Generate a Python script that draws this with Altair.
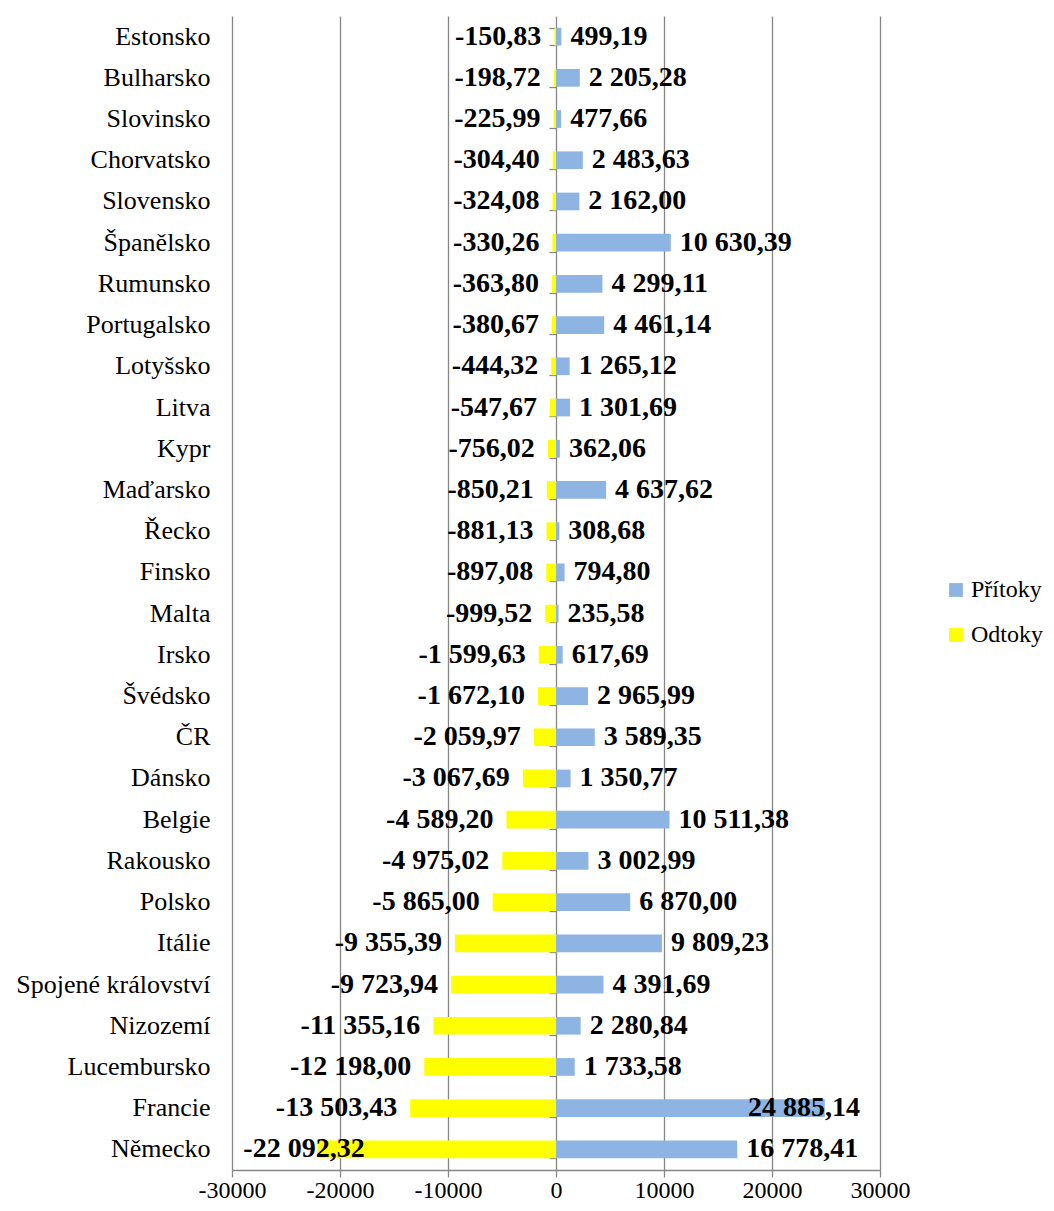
import altair as alt
import pandas as pd

countries = ["Estonsko", "Bulharsko", "Slovinsko", "Chorvatsko", "Slovensko", "Španělsko",
             "Rumunsko", "Portugalsko", "Lotyšsko", "Litva", "Kypr", "Maďarsko", "Řecko",
             "Finsko", "Malta", "Irsko", "Švédsko", "ČR", "Dánsko", "Belgie", "Rakousko",
             "Polsko", "Itálie", "Spojené království", "Nizozemí", "Lucembursko", "Francie",
             "Německo"]
inflows = [499.19, 2205.28, 477.66, 2483.63, 2162.00, 10630.39, 4299.11, 4461.14, 1265.12,
           1301.69, 362.06, 4637.62, 308.68, 794.80, 235.58, 617.69, 2965.99, 3589.35,
           1350.77, 10511.38, 3002.99, 6870.00, 9809.23, 4391.69, 2280.84, 1733.58,
           24885.14, 16778.41]
outflows = [-150.83, -198.72, -225.99, -304.40, -324.08, -330.26, -363.80, -380.67, -444.32,
            -547.67, -756.02, -850.21, -881.13, -897.08, -999.52, -1599.63, -1672.10,
            -2059.97, -3067.69, -4589.20, -4975.02, -5865.00, -9355.39, -9723.94,
            -11355.16, -12198.00, -13503.43, -22092.32]
series = ["Přítoky", "Odtoky"]
colors = ["#8DB4E2", "#FFFF00"]
x_ticks = [-30000, -20000, -10000, 0, 10000, 20000, 30000]


def fmt(v):
    s = f"{abs(v):,.2f}".replace(",", " ").replace(".", ",")
    return ("-" if v < 0 else "") + s


rows = []
for c, i, o in zip(countries, inflows, outflows):
    rows.append({"country": c, "series": "Přítoky", "value": i, "label": fmt(i)})
    rows.append({"country": c, "series": "Odtoky", "value": o, "label": fmt(o)})
df = pd.DataFrame(rows)

FONT = "Liberation Serif"
GRID = "#868686"

xscale = alt.Scale(domain=[-30000, 30000], nice=False)
yscale = alt.Scale(domain=countries, paddingInner=0.57, paddingOuter=0.285)

x_axis = alt.Axis(values=x_ticks, title=None, labelOverlap=False, labelFlush=False,
                  labelExpr="datum.value < 0 ? '-' + abs(datum.value) : '' + datum.value",
                  grid=True, gridColor=GRID, gridWidth=1.3, domainColor=GRID, domainWidth=1.3,
                  tickColor=GRID, tickSize=7, tickWidth=1.3, labelFont=FONT, labelFontSize=24,
                  labelColor="#000000", labelPadding=1)

base = alt.Chart(df)

bars = base.mark_bar().encode(
    x=alt.X("value:Q", scale=xscale, axis=x_axis),
    y=alt.Y("country:N", scale=yscale, sort=countries,
            axis=alt.Axis(title=None, orient="left", domain=False, ticks=False, grid=False,
                          labelFont=FONT, labelFontSize=26, labelColor="#000000",
                          labelPadding=22, labelLimit=0)),
    color=alt.Color("series:N", scale=alt.Scale(domain=series, range=colors),
                    legend=alt.Legend(title=None, orient="none", legendX=712, legendY=562,
                                      symbolType="square", symbolSize=190, symbolStrokeWidth=0,
                                      labelFont=FONT, labelFontSize=24, labelColor="#000000",
                                      rowPadding=21, labelOffset=3)),
)

zero_ticks = base.mark_tick(opacity=0).encode(
    y=alt.Y("country:N", scale=yscale, sort=countries,
            axis=alt.Axis(title=None, orient="left", offset=-324, labels=False, domain=False,
                          grid=False, ticks=True, tickBand="extent", tickColor=GRID,
                          tickSize=7, tickWidth=1.3)),
    x=alt.X("value:Q", scale=xscale, axis=x_axis),
)

txt_style = dict(font=FONT, fontSize=28, fontWeight="bold", color="#000000", baseline="middle")
y_noaxis = alt.Y("country:N", scale=yscale, sort=countries, axis=None)

pos_norm = base.transform_filter("datum.value > 0 && datum.value < 24000").mark_text(
    align="left", dx=9, **txt_style).encode(
    x=alt.X("value:Q", scale=xscale, axis=x_axis), y=y_noaxis, text="label:N")
pos_clamp = base.transform_filter("datum.value >= 24000").transform_calculate(
    pos="28150").mark_text(align="right", **txt_style).encode(
    x=alt.X("pos:Q", scale=xscale, axis=x_axis), y=y_noaxis, text="label:N")
neg_norm = base.transform_filter("datum.value < 0 && datum.value > -20000").mark_text(
    align="right", dx=-13, **txt_style).encode(
    x=alt.X("value:Q", scale=xscale, axis=x_axis), y=y_noaxis, text="label:N")
neg_clamp = base.transform_filter("datum.value <= -20000").transform_calculate(
    pos="-28950").mark_text(align="left", **txt_style).encode(
    x=alt.X("pos:Q", scale=xscale, axis=x_axis), y=y_noaxis, text="label:N")

chart = alt.layer(bars, zero_ticks, pos_norm, pos_clamp, neg_norm, neg_clamp).resolve_axis(
    y="independent"
).properties(
    width=648, height=1154,
    autosize=alt.AutoSizeParams(type="none"),
    padding={"left": 224, "top": 8, "right": 166, "bottom": 33},
).configure_view(stroke=None)

chart.save("out.html", embed_options={"renderer": "svg", "actions": False})
